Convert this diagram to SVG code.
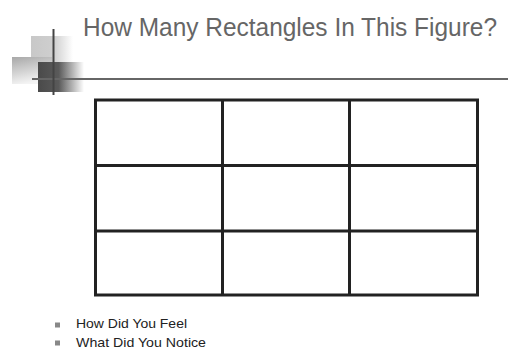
<svg xmlns="http://www.w3.org/2000/svg" width="508" height="350" viewBox="0 0 508 350">
<defs>
<linearGradient id="gLight" x1="0" y1="0" x2="1" y2="0">
<stop offset="0" stop-color="#c8c8c8"/><stop offset="0.55" stop-color="#cfcfcf"/><stop offset="1" stop-color="#ffffff"/>
</linearGradient>
<linearGradient id="gMid" x1="0" y1="0" x2="0.3" y2="1">
<stop offset="0" stop-color="#a8a8a8"/><stop offset="1" stop-color="#f4f4f4"/>
</linearGradient>
<linearGradient id="gDark" x1="0" y1="0" x2="1" y2="0">
<stop offset="0" stop-color="#4a4a4a"/><stop offset="0.45" stop-color="#5a5a5a"/><stop offset="1" stop-color="#ffffff"/>
</linearGradient>
<style>
.grid{fill:none;stroke:#222;stroke-width:3}
.title{font-family:"Liberation Sans",Arial,sans-serif;font-size:25px;fill:#666}
.bul{font-family:"Liberation Sans",Arial,sans-serif;font-size:13px;fill:#222}
.sq{fill:#888}
</style>
</defs>
<rect width="508" height="350" fill="#fff"/>
<g id="decoration">
<rect x="31" y="36" width="42" height="27" fill="url(#gLight)"/>
<rect x="12" y="57" width="40" height="27" fill="url(#gMid)"/>
<rect x="38" y="62" width="46" height="30" fill="url(#gDark)"/>
<line x1="32" y1="79" x2="508" y2="79" stroke="#666" stroke-width="2"/>
<line x1="53.5" y1="29" x2="53.5" y2="95" stroke="#444" stroke-width="2"/>
</g>
<text id="title" class="title" x="83" y="36" textLength="414" lengthAdjust="spacingAndGlyphs">How Many Rectangles In This Figure?</text>
<g id="grid">
<rect class="grid" x="95.5" y="100" width="382" height="195"/>
<line class="grid" x1="222.5" y1="100" x2="222.5" y2="295"/>
<line class="grid" x1="349.5" y1="100" x2="349.5" y2="295"/>
<line class="grid" x1="95.5" y1="165.5" x2="477.5" y2="165.5"/>
<line class="grid" x1="95.5" y1="231" x2="477.5" y2="231"/>
</g>
<g id="bullets">
<rect class="sq" x="55" y="322.5" width="5" height="5"/>
<text class="bul" x="76" y="328" textLength="111" lengthAdjust="spacingAndGlyphs">How Did You Feel</text>
<rect class="sq" x="55" y="340.5" width="5" height="5"/>
<text class="bul" x="76" y="346.5" textLength="130" lengthAdjust="spacingAndGlyphs">What Did You Notice</text>
</g>
</svg>
